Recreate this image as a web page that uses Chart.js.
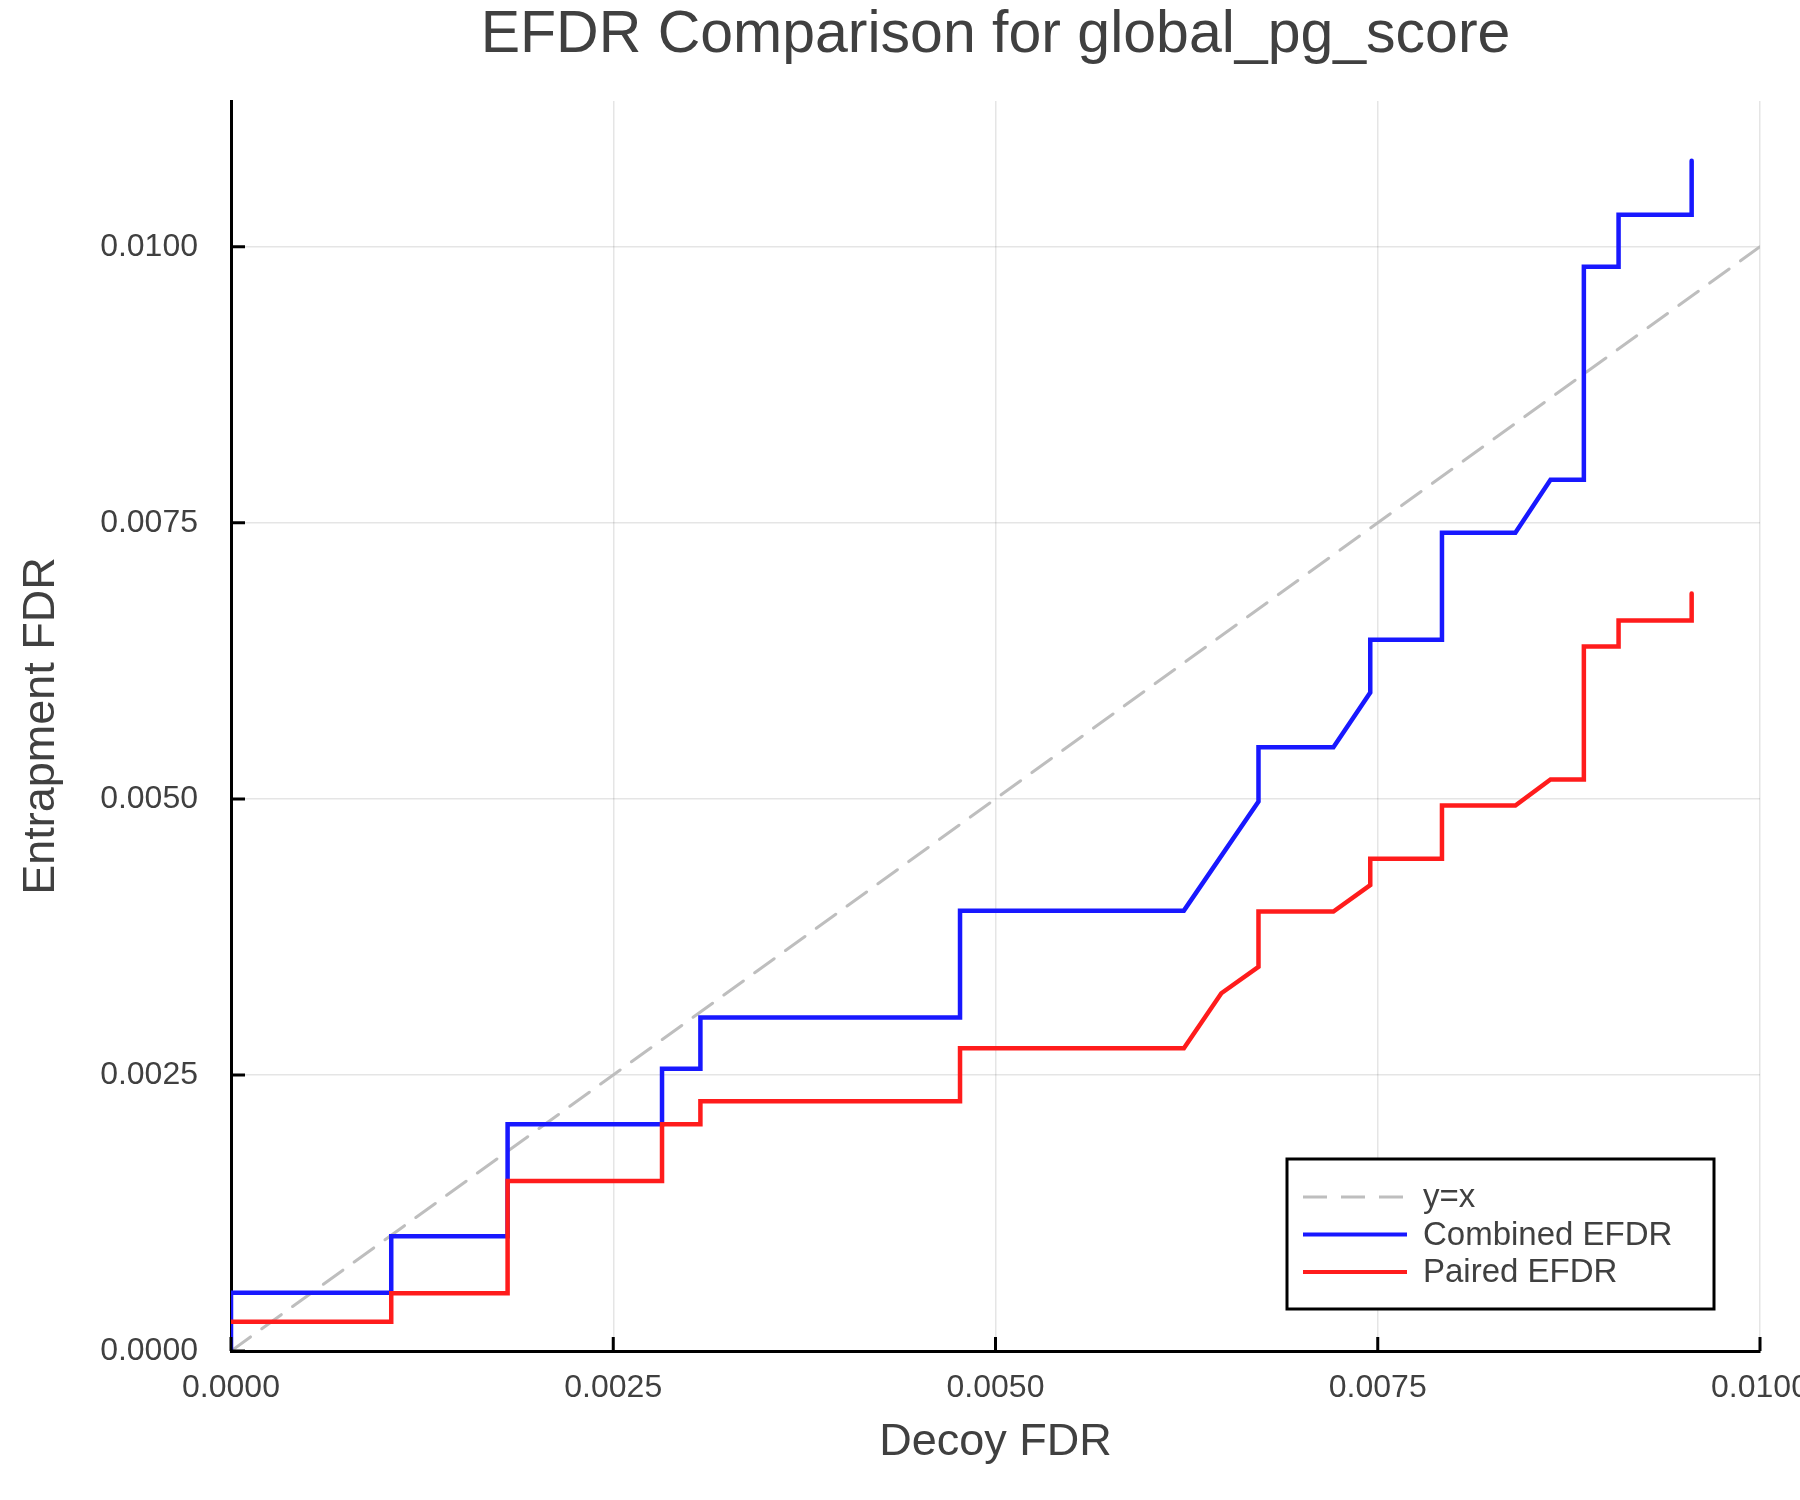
<!DOCTYPE html>
<html>
<head>
<meta charset="utf-8">
<title>EFDR Comparison</title>
<script src="https://cdn.jsdelivr.net/npm/chart.js@4.4.1/dist/chart.umd.min.js"></script>
<style>
  html, body { margin: 0; padding: 0; background: #fff; }
  canvas { display: block; }
</style>
</head>
<body>
<canvas id="efdrChart" width="1800" height="1500"></canvas>
<script>
// Decoy FDR (x) and entrapment FDR (y) vertices
const combinedX = [0, 0, 0.001048, 0.001048, 0.001809, 0.001809, 0.002819, 0.002819, 0.003070, 0.003070,
    0.004768, 0.004768, 0.006232, 0.006720, 0.006720, 0.007210, 0.007451, 0.007451, 0.007920, 0.007920,
    0.008400, 0.008630, 0.008848, 0.008848, 0.009075, 0.009075, 0.009553, 0.009553];
const combinedY = [0, 0.000528, 0.000528, 0.001039, 0.001039, 0.002053, 0.002053, 0.002557, 0.002557, 0.003020,
    0.003020, 0.003988, 0.003988, 0.004976, 0.005468, 0.005468, 0.005963, 0.006440, 0.006440, 0.007410,
    0.007410, 0.007890, 0.007890, 0.009820, 0.009820, 0.010290, 0.010290, 0.010780];

const pairedX = [0, 0.001048, 0.001048, 0.001809, 0.001809, 0.002819, 0.002819, 0.003070, 0.003070, 0.004768,
    0.004768, 0.006232, 0.006477, 0.006720, 0.006720, 0.007210, 0.007451, 0.007451, 0.007920, 0.007920,
    0.008400, 0.008630, 0.008848, 0.008848, 0.009075, 0.009075, 0.009553, 0.009553];
const pairedY = [0.000265, 0.000265, 0.000523, 0.000523, 0.001540, 0.001540, 0.002053, 0.002053, 0.002262, 0.002262,
    0.002742, 0.002742, 0.003240, 0.003480, 0.003980, 0.003980, 0.004220, 0.004457, 0.004457, 0.004940,
    0.004940, 0.005175, 0.005175, 0.006380, 0.006380, 0.006615, 0.006615, 0.006860];

const identityX = [0, 0.01];
const identityY = [0, 0.01];

const xTicks = [0, 0.0025, 0.005, 0.0075, 0.01];
const yTicks = [0, 0.0025, 0.005, 0.0075, 0.01];

const FONT = '"Liberation Sans", Arial, Helvetica, sans-serif';
const TEXT = '#404040';

const toPoints = (xs, ys) => xs.map((x, i) => ({ x: x, y: ys[i] }));

// inward tick marks, Plots/GR style
const innerTicks = {
    id: 'innerTicks',
    afterDraw(chart) {
        const { ctx, chartArea, scales } = chart;
        ctx.save();
        ctx.strokeStyle = '#000';
        ctx.lineWidth = 3;
        ctx.beginPath();
        xTicks.forEach(v => {
            const px = scales.x.getPixelForValue(v);
            ctx.moveTo(px, chartArea.bottom);
            ctx.lineTo(px, chartArea.bottom - 14);
        });
        yTicks.forEach(v => {
            const py = scales.y.getPixelForValue(v);
            ctx.moveTo(chartArea.left, py);
            ctx.lineTo(chartArea.left + 14, py);
        });
        ctx.stroke();
        ctx.restore();
    }
};

// boxed legend in the lower right corner
const boxLegend = {
    id: 'boxLegend',
    afterDraw(chart) {
        const ctx = chart.ctx;
        const box = { left: 1287, top: 1159, width: 427, height: 150 };
        ctx.save();
        ctx.fillStyle = '#fff';
        ctx.fillRect(box.left, box.top, box.width, box.height);
        ctx.strokeStyle = '#000';
        ctx.lineWidth = 3;
        ctx.strokeRect(box.left, box.top, box.width, box.height);
        ctx.font = '33px ' + FONT;
        ctx.textBaseline = 'middle';
        ctx.fillStyle = TEXT;
        chart.data.datasets.forEach((ds, i) => {
            const y = 1197 + i * 37.5;
            ctx.strokeStyle = ds.borderColor;
            ctx.lineWidth = Math.min(ds.borderWidth, 4);
            ctx.setLineDash(ds.borderDash || []);
            ctx.beginPath();
            ctx.moveTo(1303, y);
            ctx.lineTo(1407, y);
            ctx.stroke();
            ctx.setLineDash([]);
            ctx.fillText(ds.label, 1423, y + 1);
        });
        ctx.restore();
    }
};

const ctx = document.getElementById('efdrChart').getContext('2d');
new Chart(ctx, {
    type: 'line',
    data: {
        datasets: [{
            label: 'y=x',
            data: toPoints(identityX, identityY),
            borderColor: 'rgb(190,190,190)',
            borderWidth: 3,
            borderDash: [24, 14],
            order: 3
        }, {
            label: 'Combined EFDR',
            data: toPoints(combinedX, combinedY),
            borderColor: 'rgb(24,24,255)',
            borderWidth: 4.5,
            order: 2
        }, {
            label: 'Paired EFDR',
            data: toPoints(pairedX, pairedY),
            borderColor: 'rgb(255,28,28)',
            borderWidth: 4.5,
            order: 1
        }]
    },
    options: {
        responsive: false,
        animation: false,
        devicePixelRatio: 1,
        elements: {
            point: { radius: 0 },
            line: { tension: 0, fill: false, borderJoinStyle: 'miter', borderCapStyle: 'round' }
        },
        layout: { padding: { left: 0, right: 40, top: 0, bottom: 0 } },
        plugins: {
            legend: { display: false },
            tooltip: { enabled: false },
            title: {
                display: true,
                fullSize: false,
                text: 'EFDR Comparison for global_pg_score',
                color: TEXT,
                font: { family: FONT, size: 59, weight: 'normal' },
                padding: { top: 0, bottom: 30.2 }
            }
        },
        scales: {
            x: {
                type: 'linear',
                min: 0,
                max: 0.01,
                afterBuildTicks: s => { s.ticks = xTicks.map(v => ({ value: v })); },
                afterFit: s => { s.height = 149; s.paddingLeft = 0; s.paddingRight = 0; },
                ticks: {
                    callback: v => v.toFixed(4),
                    color: TEXT,
                    font: { family: FONT, size: 32 },
                    padding: 18,
                    maxRotation: 0,
                    autoSkip: false
                },
                grid: { color: 'rgba(0,0,0,0.1)', lineWidth: 1.5, drawTicks: false },
                border: { color: '#000', width: 3 },
                title: {
                    display: true,
                    text: 'Decoy FDR',
                    color: TEXT,
                    font: { family: FONT, size: 45 },
                    padding: { top: 0, bottom: 30 }
                }
            },
            y: {
                type: 'linear',
                min: 0,
                max: 0.01132,
                afterBuildTicks: s => { s.ticks = yTicks.map(v => ({ value: v })); },
                afterFit: s => { s.width = 231; s.paddingTop = 0; s.paddingBottom = 0; },
                ticks: {
                    callback: v => v.toFixed(4),
                    color: TEXT,
                    font: { family: FONT, size: 32 },
                    padding: 33,
                    autoSkip: false
                },
                grid: { color: 'rgba(0,0,0,0.1)', lineWidth: 1.5, drawTicks: false },
                border: { color: '#000', width: 3 },
                title: {
                    display: true,
                    text: 'Entrapment FDR',
                    color: TEXT,
                    font: { family: FONT, size: 45 },
                    padding: { top: 15, bottom: 0 }
                }
            }
        }
    },
    plugins: [innerTicks, boxLegend]
});
</script>
</body>
</html>
